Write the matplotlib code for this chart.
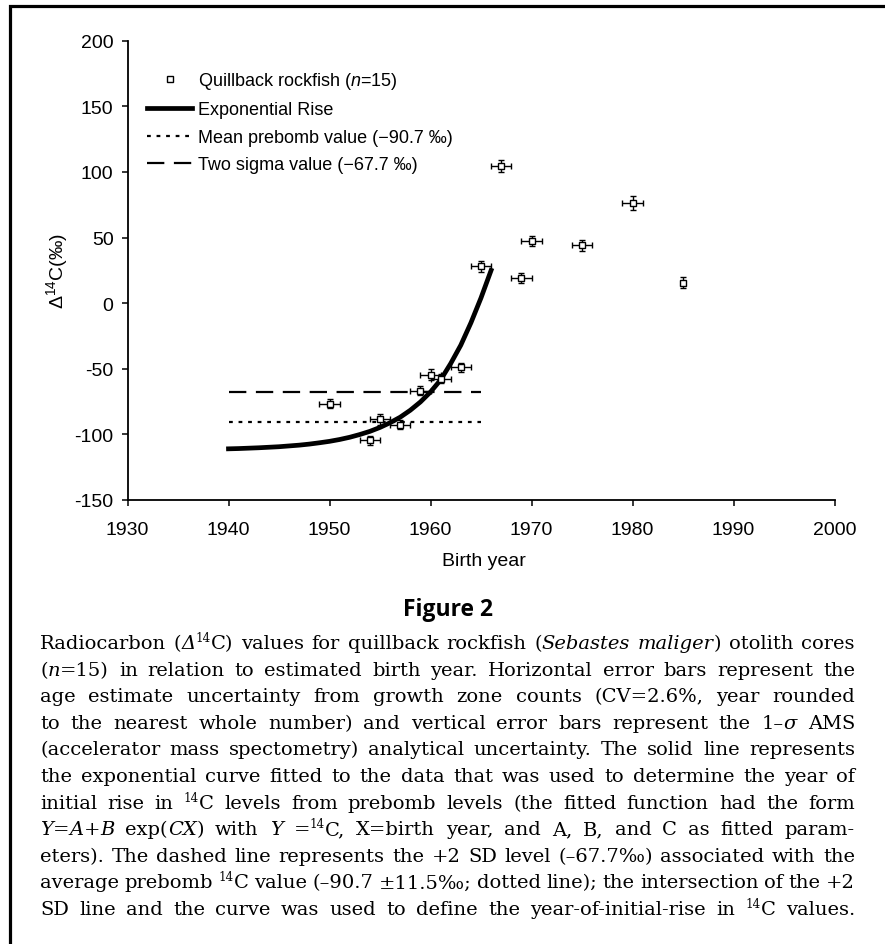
import re
import matplotlib
matplotlib.use('Agg')
import matplotlib.pyplot as plt
from matplotlib.lines import Line2D
from matplotlib.patches import Rectangle

plt.rcParams['font.family'] = ['Liberation Sans', 'DejaVu Sans']
plt.rcParams['mathtext.fontset'] = 'custom'
plt.rcParams['mathtext.rm'] = 'Liberation Sans'
plt.rcParams['mathtext.it'] = 'Liberation Sans:italic'
plt.rcParams['mathtext.sf'] = 'Liberation Sans'
plt.rcParams['axes.unicode_minus'] = False

# otolith core samples
birth_year = [1950, 1954, 1955, 1957, 1959, 1960, 1961, 1963, 1965, 1967, 1969, 1970, 1975, 1980, 1985]
d14c = [-76.7, -104.6, -88.6, -92.6, -66.8, -54.4, -57.6, -48.8, 28.0, 104.6, 19.2, 47.5, 44.0, 76.2, 15.6]
year_err = [1, 1, 1, 1, 1, 1, 1, 1, 1, 1, 1, 1, 1, 1, 0]
d14c_err = [3.5, 3.5, 4.5, 3.5, 3.5, 4.5, 3.5, 3.5, 4.0, 4.5, 4.0, 4.0, 4.2, 5.5, 4.0]

# exponential rise curve
curve_year = [1940, 1941, 1942, 1943, 1944, 1945, 1946, 1947, 1948, 1949, 1950, 1951, 1952, 1953,
              1954, 1955, 1956, 1957, 1958, 1959, 1960, 1961, 1962, 1963, 1964, 1965, 1966]
curve_d14c = [-111.0, -110.8, -110.5, -110.2, -109.8, -109.4, -108.8, -108.2, -107.4, -106.4,
              -105.3, -103.9, -102.2, -100.1, -97.7, -94.7, -91.1, -86.9, -81.6, -75.3,
              -67.7, -58.5, -46.0, -32.0, -15.0, 4.0, 25.0]

prebomb_mean = -90.7
two_sigma = -67.7
ref_span = [1940, 1965]

W, H = 885, 945
fig = plt.figure(figsize=(W / 100, H / 100), dpi=100)

def fx(px):
    return px / W

def fy(py):
    return 1 - py / H

# border of the figure box
fig.patches.append(Rectangle((fx(10), -0.2), 1.5, fy(7) + 0.2, transform=fig.transFigure,
                             fill=False, lw=2.3, ec='black'))

ax = fig.add_axes([fx(127.5), fy(501), (834.5 - 127.5) / W, (501 - 41.7) / H])

ax.errorbar(birth_year, d14c, xerr=year_err, yerr=d14c_err, fmt='s', mfc='white', mec='black',
            ms=5, mew=1, ecolor='black', elinewidth=1, capsize=2.5, capthick=1, zorder=4)
ax.plot(curve_year, curve_d14c, color='black', lw=3.4, zorder=3)
ax.plot(ref_span, [prebomb_mean, prebomb_mean], color='black', lw=1.6, ls=(0, (1.7, 2.6)), zorder=2)
ax.plot(ref_span, [two_sigma, two_sigma], color='black', lw=1.6, ls=(0, (7.8, 4.3)), zorder=2)

ax.set_xlim(1930, 2000)
ax.set_ylim(-150, 200)
ax.set_xticks(range(1930, 2001, 10))
ax.set_yticks(range(-150, 201, 50))
for s in ['top', 'right']:
    ax.spines[s].set_visible(False)
for s in ['left', 'bottom']:
    ax.spines[s].set_linewidth(1.3)
ax.tick_params(direction='out', length=4, width=1.1, labelsize=14)
ax.tick_params(axis='x', pad=11)
ax.tick_params(axis='y', pad=6)

ax.text(-0.0997, 0.5, 'Δ$^{14}$C(‰)', transform=ax.transAxes, rotation=90,
        ha='center', va='center', fontsize=14)
fig.text(fx(484), fy(562), 'Birth year', ha='center', va='center', fontsize=14)

handles = [
    Line2D([], [], marker='s', ls='none', mfc='white', mec='black', ms=5, mew=1),
    Line2D([], [], color='black', lw=3.4),
    Line2D([], [], color='black', lw=1.6, ls=(0, (1.7, 2.6))),
    Line2D([], [], color='black', lw=1.6, ls=(0, (7.8, 4.3))),
]
labels = ['Quillback rockfish ($n$=15)', 'Exponential Rise',
          'Mean prebomb value (−90.7 ‰)', 'Two sigma value (−67.7 ‰)']
ax.legend(handles, labels, loc='upper left', bbox_to_anchor=(fx(147), fy(71)),
          bbox_transform=fig.transFigure, frameon=False, fontsize=13, handlelength=2.5,
          handletextpad=0.3, labelspacing=0.58, borderpad=0, borderaxespad=0)

fig.text(fx(448), fy(610), 'Figure 2', ha='center', va='center', fontsize=16.5,
         fontweight='bold', family='Open Sans')

caption = [
    "Radiocarbon (*Δ*^14^C) values for quillback rockfish (*Sebastes* *maliger*) otolith cores",
    "(*n*=15) in relation to estimated birth year. Horizontal error bars represent the",
    "age estimate uncertainty from growth zone counts (CV=2.6%, year rounded",
    "to the nearest whole number) and vertical error bars represent the 1–*σ* AMS",
    "(accelerator mass spectometry) analytical uncertainty. The solid line represents",
    "the exponential curve fitted to the data that was used to determine the year of",
    "initial rise in ^14^C levels from prebomb levels (the fitted function had the form",
    "*Y*=*A*+*B* exp(*CX*) with *Y* =^14^C, X=birth year, and A, B, and C as fitted param-",
    "eters). The dashed line represents the +2 SD level (–67.7‰) associated with the",
    "average prebomb ^14^C value (–90.7 ±11.5‰; dotted line); the intersection of the +2",
    "SD line and the curve was used to define the year-of-initial-rise in ^14^C values.",
]

renderer = fig.canvas.get_renderer()
cap_left, cap_right = 40, 855
cap_font = 'DejaVu Serif'


def pieces(word):
    out = []
    for part in re.split(r'(\*[^*]+\*|\^[^^]+\^)', word):
        if not part:
            continue
        if part[0] == '*':
            out.append((part[1:-1], 'i'))
        elif part[0] == '^':
            out.append((part[1:-1], 's'))
        else:
            out.append((part, 'n'))
    return out


def make_text(txt, kind, size):
    return fig.text(0, 0, txt, fontsize=size * (0.62 if kind == 's' else 1),
                    fontstyle='italic' if kind == 'i' else 'normal', family=cap_font,
                    ha='left', va='baseline')


def width(t):
    return t.get_window_extent(renderer).width

# pick the largest size that lets every line fit
size = 17.0
while True:
    probe = [make_text(s, 'n', size) for s in ['a a', 'aa']]
    space = width(probe[0]) - width(probe[1])
    for t in probe:
        t.remove()
    rows = []
    widest = 0
    for line in caption:
        words = []
        for w in line.split(' '):
            ts = [(make_text(txt, k, size), k) for txt, k in pieces(w)]
            words.append(ts)
        total = sum(width(t) for ws in words for t, k in ws)
        widest = max(widest, total + space * 0.8 * (len(words) - 1))
        rows.append(words)
    if widest <= cap_right - cap_left or size < 9:
        break
    for words in rows:
        for ws in words:
            for t, k in ws:
                t.remove()
    size -= 0.25

for i, words in enumerate(rows):
    base = 649 + 26.6 * i
    wlist = [sum(width(t) for t, k in ws) for ws in words]
    gap = (cap_right - cap_left - sum(wlist)) / (len(words) - 1)
    x = cap_left
    for ws, ww in zip(words, wlist):
        xx = x
        for t, k in ws:
            yy = base - (size * 1.389 * 0.36 if k == 's' else 0)
            t.set_position((fx(xx), fy(yy)))
            xx += width(t)
        x += ww + gap

fig.savefig('out.png', dpi=100)
